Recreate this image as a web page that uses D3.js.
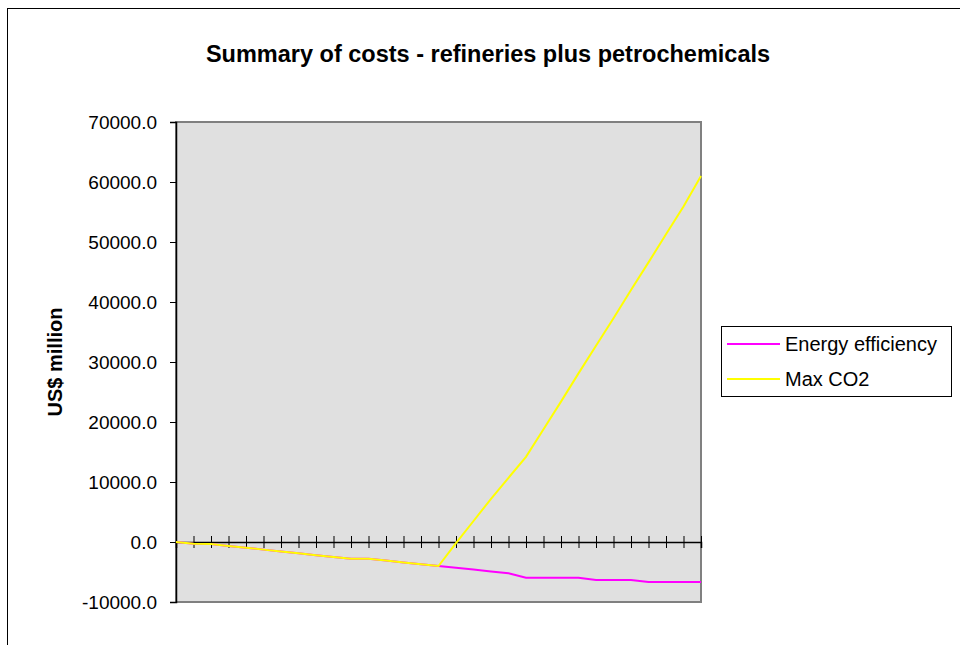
<!DOCTYPE html>
<html>
<head>
<meta charset="utf-8">
<script src="https://cdn.jsdelivr.net/npm/d3@7"></script>
<style>
  html, body { margin: 0; padding: 0; background: #ffffff; }
  svg { display: block; font-family: "Liberation Sans", Arial, sans-serif; }
</style>
</head>
<body>
<svg id="chart" width="960" height="645"></svg>
<script>
// ---- data ----
const categories = [1, 2, 3, 4, 5, 6, 7, 8, 9, 10, 11, 12, 13, 14, 15, 16,
  17, 18, 19, 20, 21, 22, 23, 24, 25, 26, 27, 28, 29, 30, 31];
const energyEfficiency = [0, -300, -350, -650, -950, -1270, -1580, -1880, -2190, -2500,
  -2800, -2800, -3100, -3400, -3700, -4000, -4300, -4600, -4900, -5200,
  -5950, -5950, -5950, -5950, -6350, -6350, -6350, -6650, -6650, -6650, -6650];
const maxCO2 = [0, -300, -350, -650, -950, -1270, -1580, -1880, -2190, -2500,
  -2800, -2800, -3100, -3400, -3700, -4000, -200, 3500, 7200, 10700,
  14200, 18800, 23400, 28100, 32700, 37300, 42000, 46600, 51300, 55900, 61000];
const yTicks = [-10000, 0, 10000, 20000, 30000, 40000, 50000, 60000, 70000];
const seriesNames = ["Energy efficiency", "Max CO2"];
const seriesColors = ["#ff00ff", "#ffff00"];
const chartTitle = "Summary of costs - refineries plus petrochemicals";
const yTitle = "US$ million";

// ---- layout ----
const svg = d3.select("#chart");
const plot = { left: 176, right: 701, top: 122, bottom: 602 };

// outer chart border
svg.append("rect").attr("x", 7.5).attr("y", 8.5).attr("width", 970).attr("height", 660)
  .attr("fill", "#ffffff").attr("stroke", "#000000").attr("stroke-width", 1);

const x = d3.scalePoint().domain(categories).range([plot.left, plot.right]);
const y = d3.scaleLinear().domain([-10000, 70000]).range([plot.bottom, plot.top]);

// plot area
svg.append("rect")
  .attr("x", plot.left).attr("y", plot.top)
  .attr("width", plot.right - plot.left).attr("height", plot.bottom - plot.top)
  .attr("fill", "#e0e0e0").attr("stroke", "#808080").attr("stroke-width", 2);

// title
svg.append("text").attr("x", 488).attr("y", 62).attr("text-anchor", "middle")
  .attr("font-size", 23.5).attr("font-weight", "bold").attr("fill", "#000")
  .text(chartTitle);

// y axis
const fmt = d => d3.format(".1f")(d).replace("\u2212", "-");
const yAxis = d3.axisLeft(y).tickValues(yTicks).tickSize(6).tickPadding(13)
  .tickFormat(fmt);
const gy = svg.append("g").attr("transform", `translate(${plot.left},0)`).call(yAxis);
gy.select(".domain").attr("stroke", "#000").attr("stroke-width", 1.5);
gy.selectAll(".tick line").attr("stroke", "#000");
gy.selectAll(".tick text").attr("font-size", 19).attr("fill", "#000")
  .attr("font-family", "Liberation Sans, Arial, sans-serif");

// y title
svg.append("text")
  .attr("transform", `translate(62,${(plot.top + plot.bottom) / 2}) rotate(-90)`)
  .attr("text-anchor", "middle").attr("font-size", 20).attr("font-weight", "bold")
  .text(yTitle);

// category axis at zero
const xAxis = d3.axisBottom(x).tickSize(6).tickFormat("");
const gx = svg.append("g").attr("transform", `translate(0,${y(0)})`).call(xAxis);
gx.select(".domain").attr("stroke", "#000").attr("stroke-width", 1.5);
gx.selectAll(".tick line").attr("y1", -6).attr("y2", 6).attr("stroke", "#000");

// lines
const line = d3.line().x((d, i) => x(categories[i])).y(d => y(d));
[energyEfficiency, maxCO2].forEach((s, k) => {
  svg.append("path").datum(s).attr("d", line)
    .attr("fill", "none").attr("stroke", seriesColors[k]).attr("stroke-width", 2);
});

// legend
const lg = svg.append("g");
lg.append("rect").attr("x", 721.5).attr("y", 326.5).attr("width", 230).attr("height", 70)
  .attr("fill", "#fff").attr("stroke", "#000").attr("stroke-width", 1);
seriesNames.forEach((n, k) => {
  const yy = 344 + k * 35;
  lg.append("line").attr("x1", 727).attr("x2", 780).attr("y1", yy).attr("y2", yy)
    .attr("stroke", seriesColors[k]).attr("stroke-width", 2);
  lg.append("text").attr("x", 785).attr("y", yy + 7).attr("font-size", 20)
    .attr("fill", "#000").text(n);
});
</script>
</body>
</html>
